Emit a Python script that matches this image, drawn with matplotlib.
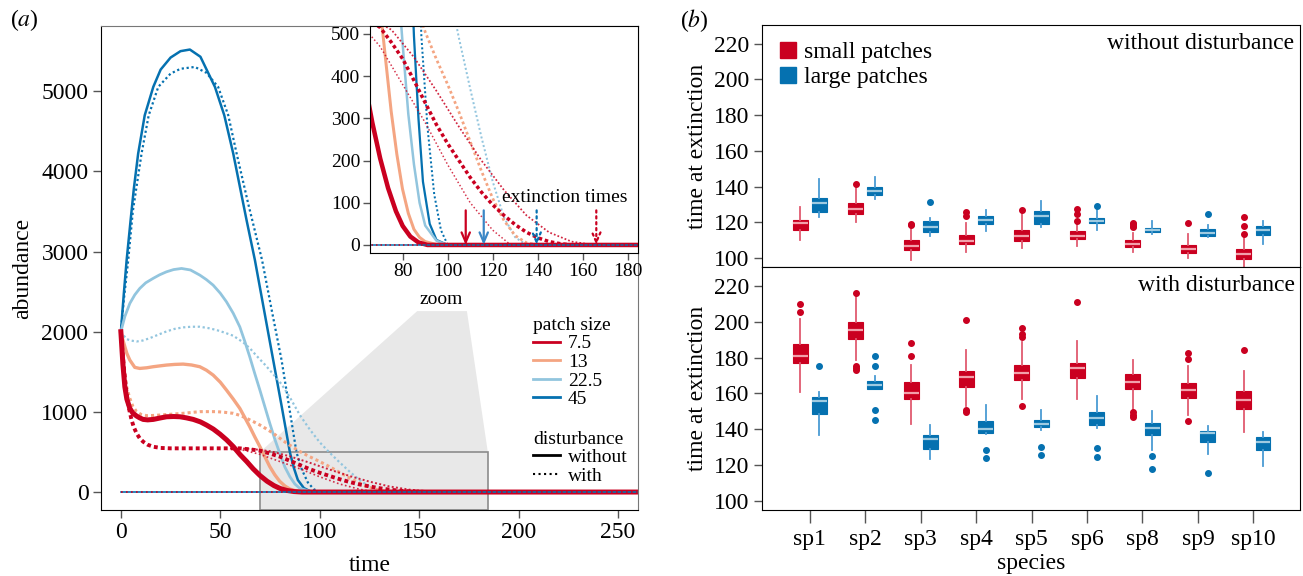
import matplotlib.pyplot as plt
from matplotlib.lines import Line2D
from matplotlib.patches import Rectangle, Polygon

plt.rcParams["font.family"] = ["Liberation Serif", "DejaVu Serif"]
plt.rcParams["mathtext.fontset"] = "stix"

RED, ORANGE, LBLUE, BLUE = "#ca0020", "#f4a582", "#92c5de", "#0571b0"

# ---- panel (a): abundance through time, one line per patch size / disturbance
blue_wo_t = [0, 1.5, 2.9, 4.9, 6.5, 8.7, 12, 16.3, 20, 25, 30, 34.7, 40, 47.3, 52, 56.5, 63.2, 67.4,
             72, 76.6, 81, 85, 87, 89, 92, 95, 100, 300]
blue_wo_y = [2000, 2480, 2893, 3392, 3780, 4223, 4700, 5054, 5270, 5420, 5500, 5520, 5430, 5054, 4700,
             4223, 3392, 2893, 2270, 1646, 1050, 495, 300, 150, 50, 12, 0, 0]
blue_w_t = [0, 1.5, 3.7, 6, 10.4, 14, 18.8, 25, 30, 37.2, 43, 48.9, 54, 58.2, 64, 71, 76, 80.8, 84.5,
            88.3, 91, 94, 97, 100, 300]
blue_w_y = [2000, 2400, 2893, 3500, 4223, 4700, 5054, 5220, 5280, 5303, 5230, 5054, 4700, 4223, 3600,
            2893, 2250, 1646, 1080, 495, 280, 120, 35, 0, 0]

lblue_wo_t = [0, 2, 4.5, 7, 9.5, 12.5, 16.2, 19.5, 22.9, 26.5, 30.5, 35, 39.7, 43, 46.4, 50, 53.1, 56.5,
              59.8, 62.3, 64.8, 67.3, 69.9, 72.4, 74.9, 77.4, 79.9, 82.5, 85, 87.5, 90, 95, 100, 300]
lblue_wo_y = [2000, 2190, 2353, 2460, 2540, 2610, 2665, 2710, 2747, 2775, 2789, 2770, 2706, 2650, 2581,
              2480, 2373, 2230, 2061, 1880, 1687, 1480, 1272, 1064, 856, 660, 482, 310, 191, 100, 46,
              10, 0, 0]
lblue_w_t = [0, 1.5, 2.9, 5, 7.9, 11, 14.6, 19, 23, 27, 31.3, 35.5, 39.7, 44, 48.1, 52, 56.5, 61.5, 65,
             68.2, 72.4, 76.6, 80.8, 85, 90, 95, 100, 105, 110, 115, 120, 125, 130, 135, 300]
lblue_w_y = [2000, 1950, 1908, 1890, 1878, 1890, 1920, 1965, 2004, 2035, 2054, 2062, 2062, 2045, 2021,
             1990, 1950, 1867, 1790, 1700, 1590, 1471, 1345, 1180, 960, 780, 620, 490, 370, 255, 150,
             65, 18, 0, 0]

orange_wo_t = [0, 1, 2, 3, 4.5, 7, 9.5, 13, 16.2, 20, 23, 27, 31.3, 35.5, 39.7, 43, 46.4, 50, 53.1,
               56.5, 59.8, 62.3, 64.8, 67.3, 69.9, 72.4, 74.9, 77.4, 79.9, 82.5, 85, 87.5, 90, 95,
               100, 300]
orange_wo_y = [2000, 1900, 1813, 1730, 1646, 1555, 1542, 1550, 1563, 1575, 1584, 1592, 1596, 1585, 1563,
               1520, 1459, 1370, 1272, 1160, 1044, 930, 815, 690, 566, 440, 316, 215, 133, 75, 37, 18,
               8, 1, 0, 0]
orange_w_t = [0, 1, 2, 3, 4.5, 6, 7.9, 10, 12.9, 16, 20, 25, 31.3, 39.7, 48.1, 52, 56.5, 60, 63.2,
              66.5, 69.9, 73, 76.6, 80, 83.3, 86.5, 90, 95, 100, 105, 110, 115, 120, 125, 130, 135,
              140, 300]
orange_w_y = [2000, 1700, 1450, 1300, 1169, 1070, 1003, 970, 953, 955, 961, 970, 982, 1003, 1003, 995,
              982, 955, 920, 880, 836, 790, 733, 670, 610, 560, 505, 440, 380, 315, 245, 175, 110, 58,
              22, 5, 0, 0]

red_wo_t = [0, 1, 2, 3, 4.5, 6, 7.9, 9.5, 11.2, 13.5, 16.3, 20, 23, 26.5, 29.7, 33, 36.4, 40, 43.1,
            46.5, 49.8, 53.2, 56.6, 60, 63.3, 66.5, 70, 73.5, 77, 80, 83.4, 87, 91, 300]
red_wo_y = [2000, 1600, 1313, 1160, 1043, 985, 948, 925, 906, 900, 906, 925, 939, 942, 939, 925, 906,
            875, 835, 785, 723, 650, 565, 465, 380, 290, 205, 135, 80, 45, 20, 6, 0, 0]
red_w_t = [0, 0.6, 1.2, 2, 2.9, 4, 5.4, 6.5, 7.9, 9.5, 11.2, 13.5, 16.3, 20, 25, 31.3, 40, 48.1, 55,
           59.8, 65, 69.9, 75, 80, 85, 90, 95, 100, 105, 110, 115, 120, 125, 130, 135, 140, 145, 150,
           155, 300]
red_w_y = [2000, 1800, 1646, 1420, 1231, 1050, 898, 810, 732, 670, 628, 590, 565, 550, 545, 545, 545,
           545, 545, 545, 532, 516, 480, 441, 390, 337, 285, 240, 200, 160, 125, 95, 70, 48, 30, 17, 8,
           3, 0, 0]
red_w_fast_t = [55, 62, 70, 80, 90, 100, 110, 120, 128, 300]
red_w_fast_y = [545, 520, 470, 380, 290, 190, 100, 35, 0, 0]
red_w_slow_t = [55, 65, 75, 85, 95, 105, 115, 125, 135, 145, 155, 165, 300]
red_w_slow_y = [545, 540, 510, 445, 365, 280, 200, 130, 70, 30, 8, 0, 0]

# species absent from the start stay at zero for the whole run
zero_t = [0, 300]
zero_y = [0, 0]

extinction_t = [108, 116, 139.5, 166]
extinction_col = [RED, "#3a87c6", BLUE, RED]
extinction_ls = ["-", "-", ":", ":"]

# ---- panel (b): time at extinction, box statistics per species
species = ["sp1", "sp2", "sp3", "sp4", "sp5", "sp6", "sp8", "sp9", "sp10"]

small_wo_med = [119.4, 127.6, 106.7, 109.7, 112.1, 112.3, 107.6, 104.8, 102.0]
small_wo_q1 = [115.7, 124.6, 104.5, 107.8, 109.7, 110.8, 106.0, 102.8, 99.6]
small_wo_q3 = [121.1, 131.1, 109.9, 112.7, 115.8, 114.9, 109.9, 107.1, 104.8]
small_wo_lo = [110.1, 120.1, 98.9, 103.5, 105.8, 106.7, 103.4, 100.0, 94.5]
small_wo_hi = [128.7, 139.3, 117.9, 119.4, 124.4, 119.0, 114.2, 113.2, 111.4]
small_wo_out = [[], [141.5], [119.2, 118.6], [125.7, 123.5], [126.8], [127.4, 124.8, 120.9],
                [119.8, 118.9, 118.1, 117.4], [119.9], [122.9, 117.7, 113.2]]

large_wo_med = [130.6, 137.3, 117.5, 121.2, 123.8, 120.9, 115.8, 114.2, 115.8]
large_wo_q1 = [125.7, 135.2, 114.5, 119.2, 119.0, 119.6, 114.5, 112.3, 113.0]
large_wo_q3 = [133.4, 140.0, 120.5, 123.7, 126.5, 122.7, 117.0, 116.0, 117.7]
large_wo_lo = [123.1, 133.2, 112.3, 115.1, 117.5, 115.7, 113.4, 111.7, 107.6]
large_wo_hi = [144.0, 145.5, 122.4, 126.8, 132.2, 127.0, 120.9, 118.6, 120.5]
large_wo_out = [[], [], [131.3], [], [], [128.9], [], [124.4], []]

small_w_med = [181.1, 195.1, 160.5, 169.2, 171.4, 173.9, 166.6, 162.1, 156.4]
small_w_q1 = [176.7, 190.6, 157.1, 163.8, 167.7, 168.8, 162.7, 157.7, 151.5]
small_w_q3 = [187.4, 199.7, 166.2, 172.4, 175.9, 176.8, 170.7, 165.7, 161.2]
small_w_lo = [160.8, 178.5, 143.2, 153.0, 156.7, 156.7, 151.2, 148.0, 138.7]
small_w_hi = [201.4, 214.4, 175.7, 184.1, 188.4, 189.3, 178.5, 175.3, 172.6]
small_w_out = [[210.1, 205.3], [215.9, 175.3, 174.4, 173.1], [188.2, 180.7], [200.7, 150.8, 149.9],
               [196.2, 193.0, 191.7, 152.8], [210.9], [149.7, 148.2, 147.1], [182.4, 179.3, 144.7],
               [184.1]]

large_w_med = [156.0, 164.7, 134.6, 140.4, 143.2, 146.5, 140.6, 138.1, 133.1]
large_w_q1 = [148.7, 162.7, 129.2, 138.1, 141.5, 142.4, 137.0, 133.1, 128.7]
large_w_q3 = [157.9, 166.8, 136.7, 144.7, 145.2, 149.7, 143.5, 139.3, 135.5]
large_w_lo = [136.7, 162.3, 123.3, 137.2, 139.6, 140.7, 128.5, 126.0, 119.5]
large_w_hi = [160.8, 169.8, 142.2, 153.8, 150.6, 158.6, 150.4, 141.7, 138.7]
large_w_out = [[175.5], [180.6, 175.5, 151.0, 145.2], [], [128.7, 124.2], [130.0, 125.9],
               [129.4, 124.7], [125.3, 117.9], [115.8], []]


def draw_curves(ax, lw_scale=1.0):
    s = lw_scale
    ax.plot(blue_wo_t, blue_wo_y, color=BLUE, lw=1.8 * s)
    ax.plot(blue_w_t, blue_w_y, color=BLUE, lw=1.6 * s, ls=(0, (1, 1.2)))
    ax.plot(lblue_wo_t, lblue_wo_y, color=LBLUE, lw=2.0 * s)
    ax.plot(lblue_w_t, lblue_w_y, color=LBLUE, lw=1.6 * s, ls=(0, (1, 1.2)))
    ax.plot(orange_wo_t, orange_wo_y, color=ORANGE, lw=2.4 * s)
    ax.plot(orange_w_t, orange_w_y, color=ORANGE, lw=2.2 * s, ls=(0, (1, 1.0)))
    ax.plot(red_wo_t, red_wo_y, color=RED, lw=3.6 * s)
    ax.plot(red_w_t, red_w_y, color=RED, lw=2.8 * s, ls=(0, (1, 0.8)))
    ax.plot(red_w_fast_t, red_w_fast_y, color=RED, lw=1.2 * s, ls=(0, (1, 1.5)), alpha=0.8)
    ax.plot(red_w_slow_t, red_w_slow_y, color=RED, lw=1.4 * s, ls=(0, (1, 1.2)), alpha=0.85)
    ax.plot(zero_t, zero_y, color=BLUE, lw=1.2 * s)
    ax.plot(zero_t, zero_y, color=RED, lw=1.2 * s, ls=(0, (1, 2)))


def r_style(ax, fs):
    ax.tick_params(direction="out", length=6, width=1, color="#555555", labelsize=fs, pad=3)


fig = plt.figure(figsize=(13.03, 5.76), dpi=100)

# ---------------- panel (a)
ax = fig.add_axes([0.0775, 0.1146, 0.4121, 0.8403])
draw_curves(ax)
ax.set_xlim(-10, 260)
ax.set_ylim(-224, 5814)
ax.set_xticks([0, 50, 100, 150, 200, 250])
ax.set_yticks([0, 1000, 2000, 3000, 4000, 5000])
r_style(ax, 17)
ax.set_xlabel("time", fontsize=17, labelpad=8)
ax.set_ylabel("abundance", fontsize=17, labelpad=6)
for sp in ("top", "right"):
    ax.spines[sp].set_color("#777777")

ax.add_patch(Rectangle((70, -224), 114.5, 724, facecolor="#e8e8e8", edgecolor="#8c8c8c",
                       lw=1.2, zorder=0.5))
ax.add_patch(Polygon([(70, 500), (149, 2257), (174, 2257), (184.5, 500)], closed=True,
                     facecolor="#e8e8e8", edgecolor="none", zorder=0.4))
ax.text(161, 2300, "zoom", fontsize=14, ha="center", va="bottom")

leg1 = ax.legend([Line2D([], [], color=c, lw=2) for c in (RED, ORANGE, LBLUE, BLUE)],
                 ["7.5", "13", "22.5", "45"], title="patch size", alignment="left",
                 loc="upper left", bbox_to_anchor=(0.79, 0.415), frameon=False, fontsize=14,
                 title_fontsize=14, handlelength=1.4, handletextpad=0.4, labelspacing=0.05,
                 borderaxespad=0)
ax.add_artist(leg1)
ax.legend([Line2D([], [], color="black", lw=2), Line2D([], [], color="black", lw=1.5, ls=":")],
          ["without", "with"], title="disturbance", alignment="left",
          loc="upper left", bbox_to_anchor=(0.79, 0.18), frameon=False, fontsize=14,
          title_fontsize=14, handlelength=1.4, handletextpad=0.4, labelspacing=0.05,
          borderaxespad=0)

# inset
axi = fig.add_axes([0.284, 0.5608, 0.2056, 0.3941])
draw_curves(axi, 0.9)
axi.set_xlim(65.5, 184.5)
axi.set_ylim(-19, 519)
axi.set_xticks([80, 100, 120, 140, 160, 180])
axi.set_yticks([0, 100, 200, 300, 400, 500])
r_style(axi, 14)
axi.tick_params(length=5, pad=2)
for t, c, ls in zip(extinction_t, extinction_col, extinction_ls):
    axi.annotate("", xy=(t, 0), xytext=(t, 82),
                 arrowprops=dict(arrowstyle="->,head_length=0.7,head_width=0.3", color=c,
                                 lw=1.6, linestyle=ls, shrinkA=0, shrinkB=0))
axi.text(152, 112, "extinction times", fontsize=14, ha="center", va="center")

fig.text(0.008, 0.965, "($a$)", fontsize=17, ha="left", va="center")

# ---------------- panel (b)
axt = fig.add_axes([0.5848, 0.5365, 0.4129, 0.4201])
axb = fig.add_axes([0.5848, 0.1146, 0.4129, 0.4219])
x = list(range(len(species)))
off, width = 0.173, 0.27

groups = [
    (axt, small_wo_med, small_wo_q1, small_wo_q3, small_wo_lo, small_wo_hi, small_wo_out, -off, RED,
     "#f2a0ab", "#e05a70"),
    (axt, large_wo_med, large_wo_q1, large_wo_q3, large_wo_lo, large_wo_hi, large_wo_out, off, BLUE,
     "#9ecae1", "#4a9bd3"),
    (axb, small_w_med, small_w_q1, small_w_q3, small_w_lo, small_w_hi, small_w_out, -off, RED,
     "#f2a0ab", "#e05a70"),
    (axb, large_w_med, large_w_q1, large_w_q3, large_w_lo, large_w_hi, large_w_out, off, BLUE,
     "#9ecae1", "#4a9bd3"),
]
for a, med, q1, q3, lo, hi, out, dx, col, mcol, wcol in groups:
    stats = [dict(med=m, q1=a1, q3=a3, whislo=l, whishi=h, fliers=f)
             for m, a1, a3, l, h, f in zip(med, q1, q3, lo, hi, out)]
    a.bxp(stats, positions=[xi + dx for xi in x], widths=width, patch_artist=True,
          showcaps=False, manage_ticks=False,
          boxprops=dict(facecolor=col, edgecolor=col, lw=0.8),
          medianprops=dict(color=mcol, lw=1.6),
          whiskerprops=dict(color=wcol, lw=1.3),
          flierprops=dict(marker="o", markerfacecolor=col, markeredgecolor=col, markersize=4))

for a in (axt, axb):
    a.set_xlim(-0.86, 8.84)
    a.set_ylim(95, 230.5)
    a.set_yticks([100, 120, 140, 160, 180, 200, 220])
    r_style(a, 17)
    a.set_ylabel("time at extinction", fontsize=17, labelpad=4)
axt.set_xticks([])
axb.set_xticks(x)
axb.set_xticklabels(species)
axb.tick_params(axis="x", length=9, pad=5)
axb.set_xlabel("species", fontsize=17, labelpad=2)

axt.text(0.99, 0.965, "without disturbance", transform=axt.transAxes, fontsize=17,
         ha="right", va="top")
axb.text(0.99, 0.965, "with disturbance", transform=axb.transAxes, fontsize=17,
         ha="right", va="top")
axt.legend([Line2D([], [], marker="s", ls="", color=RED, markersize=12),
            Line2D([], [], marker="s", ls="", color=BLUE, markersize=12)],
           ["small patches", "large patches"], loc="upper left", bbox_to_anchor=(0.0, 1.0),
           frameon=False, fontsize=17, handlelength=0.8, handletextpad=0.3, labelspacing=0.15,
           borderaxespad=0.3)

fig.text(0.522, 0.965, "($b$)", fontsize=17, ha="left", va="center")

fig.savefig("out.png", dpi=100)
